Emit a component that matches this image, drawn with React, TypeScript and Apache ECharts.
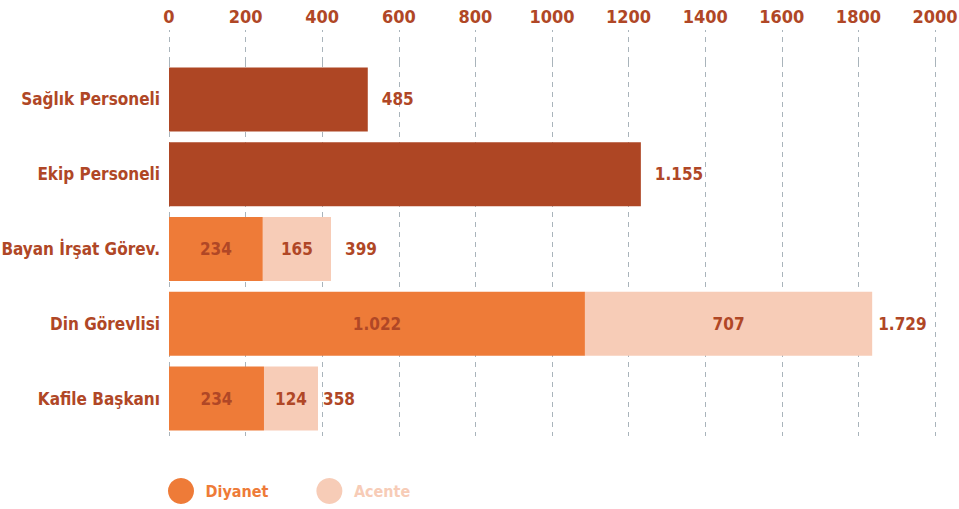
import React, { useEffect, useRef } from "react";
import * as echarts from "echarts";

// Categories (top to bottom)
const categories = [
  "Sağlık Personeli",
  "Ekip Personeli",
  "Bayan İrşat Görev.",
  "Din Görevlisi",
  "Kafile Başkanı",
];

// Bar lengths as drawn against the axis, and the numbers printed on them
const personelBars = [519, 1232, null, null, null];
const personelLabels = ["485", "1.155", "", "", ""];
const diyanetBars = [null, null, 245, 1086, 248];
const diyanetLabels = ["", "", "234", "1.022", "234"];
const acenteBars = [null, null, 178, 750, 141];
const acenteLabels = ["", "", "165", "707", "124"];
const totalLabels = ["", "", "399", "1.729", "358"];
const totalLabelGaps = [0, 0, 14, 6, 5];

// Axis ticks
const axisMin = 0;
const axisMax = 2000;
const axisStep = 200;

const FONT = "'Liberation Sans Narrow', 'DejaVu Sans Condensed', 'DejaVu Sans', sans-serif";
const TEXT = "#B04726";
const DARK = "#AE4624";
const DIYANET = "#EE7B38";
const ACENTE = "#F7CCB7";
const GRID = "#A9B4BB";

export default function App() {
  const ref = useRef<HTMLDivElement>(null);
  useEffect(() => {
    if (!ref.current) return;
    const chart = echarts.init(ref.current, null, { renderer: "svg" });
    const totals = diyanetBars.map((d, i) =>
      d == null ? null : (d as number) + ((acenteBars[i] as number) || 0)
    );
    const lbl = { color: TEXT, fontFamily: FONT, fontWeight: "bold", fontSize: 17 };
    chart.setOption({
      animation: false,
      grid: { left: 169, right: 24, top: 62, bottom: 73, outerBoundsMode: "none", containLabel: false },
      legend: {
        data: [
          { name: "Diyanet", textStyle: { color: DIYANET } },
          { name: "Acente", textStyle: { color: ACENTE } },
        ],
        left: 163,
        top: 473,
        icon: "circle",
        itemWidth: 29,
        itemHeight: 26,
        itemGap: 48,
        textStyle: { fontFamily: FONT, fontWeight: "bold", fontSize: 16, padding: [0, 0, 0, 5] },
        selectedMode: false,
      },
      xAxis: {
        type: "value",
        position: "top",
        min: axisMin,
        max: axisMax,
        interval: axisStep,
        axisLine: { show: false },
        axisTick: {
          show: true,
          length: 32,
          lineStyle: { color: GRID, type: [5, 5], width: 1 },
        },
        splitLine: { show: true, lineStyle: { color: GRID, type: [5, 5], width: 1 } },
        axisLabel: {
          margin: 37,
          color: TEXT,
          fontFamily: FONT,
          fontWeight: "bold",
          fontSize: 18,
          formatter: (v: number) => String(v),
        },
      },
      yAxis: {
        type: "category",
        data: categories,
        inverse: true,
        axisLine: { show: false },
        axisTick: { show: false },
        axisLabel: { margin: 9, ...lbl },
      },
      series: [
        {
          name: "Personel",
          type: "bar",
          stack: "s",
          barWidth: 64,
          data: personelBars,
          itemStyle: { color: DARK },
          label: {
            show: true,
            position: "right",
            distance: 14,
            ...lbl,
            formatter: (p: any) => personelLabels[p.dataIndex],
          },
        },
        {
          name: "Diyanet",
          type: "bar",
          stack: "s",
          barWidth: 64,
          data: diyanetBars,
          itemStyle: { color: DIYANET },
          label: {
            show: true,
            position: "inside",
            ...lbl,
            formatter: (p: any) => diyanetLabels[p.dataIndex],
          },
        },
        {
          name: "Acente",
          type: "bar",
          stack: "s",
          barWidth: 64,
          data: acenteBars,
          itemStyle: { color: ACENTE },
          label: {
            show: true,
            position: "inside",
            ...lbl,
            formatter: (p: any) => acenteLabels[p.dataIndex],
          },
        },
        {
          name: "Toplam",
          type: "scatter",
          symbolSize: 0,
          silent: true,
          itemStyle: { opacity: 1 },
          data: totals.map((t, i) =>
            t == null
              ? null
              : {
                  value: [t, categories[i]],
                  label: { distance: totalLabelGaps[i] },
                }
          ),
          label: {
            show: true,
            position: "right",
            opacity: 1,
            ...lbl,
            formatter: (p: any) => totalLabels[p.dataIndex],
          },
        },
      ],
    });
    return () => chart.dispose();
  }, []);
  return (
    <div
      ref={ref}
      style={{ position: "absolute", left: 0, top: 0, width: 959, height: 509 }}
    />
  );
}
